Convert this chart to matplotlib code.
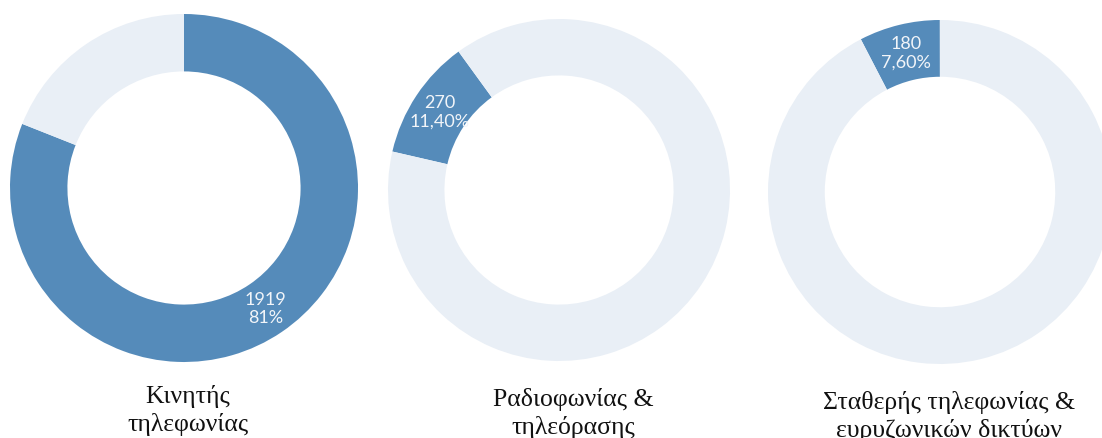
import numpy as np
import matplotlib.pyplot as plt

# Дані
categories = ["Κινητής\nτηλεφωνίας", "Ραδιοφωνίας &\nτηλεόρασης", "Σταθερής τηλεφωνίας &\nευρυζωνικών δικτύων"]
values = [1919, 270, 180]
pct_labels = ["81%", "11,40%", "7,60%"]
start_angles = [90, 167, 117.4]

W, H = 1102, 439
blue = "#558BBA"
light = "#E9EFF6"

# центри та радіуси кілець у пікселях
centers = [(184, 189), (559, 191), (940, 193)]
radii = [174, 171, 172]
label_pos = [(188, 385), (573, 388), (949, 391)]

total = sum(values)

fig = plt.figure(figsize=(W / 100, H / 100), dpi=100)

for i in range(3):
    cx, cy = centers[i]
    r = radii[i]
    ax = fig.add_axes([(cx - r) / W, (H - cy - r) / H, 2 * r / W, 2 * r / H])
    wedges, _ = ax.pie([values[i], total - values[i]], colors=[blue, light],
                       startangle=start_angles[i], counterclock=False,
                       radius=1, wedgeprops=dict(width=0.33, edgecolor="none"))
    ax.set_xlim(-1, 1)
    ax.set_ylim(-1, 1)
    ax.set_aspect("equal")
    ax.axis("off")

    w = wedges[0]
    mid = np.deg2rad((w.theta1 + w.theta2) / 2)
    ax.text(0.835 * np.cos(mid), 0.835 * np.sin(mid),
            f"{values[i]}\n{pct_labels[i]}", ha="center", va="center",
            color="#F2F5F9", fontsize=13, family="Lato", linespacing=1.2)

    lx, ly = label_pos[i]
    fig.text(lx / W, 1 - ly / H, categories[i], ha="center", va="top",
             fontsize=18.5, family="Liberation Serif", color="#111111",
             linespacing=1.3)

fig.savefig("out.png", dpi=100)
